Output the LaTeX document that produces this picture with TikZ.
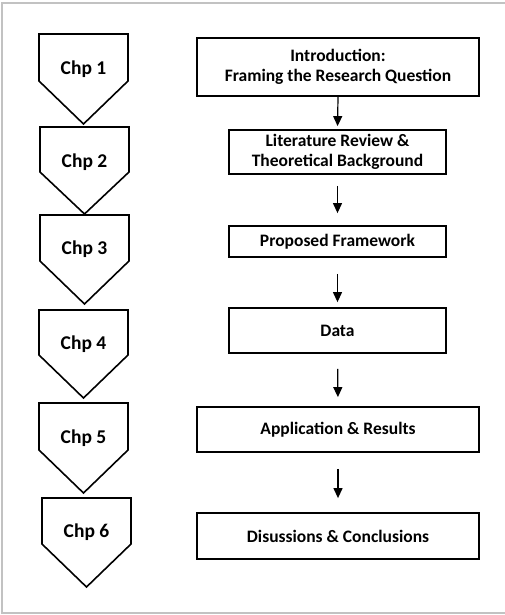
\documentclass[tikz,border=0pt]{standalone}
\usepackage{fontspec}
\setmainfont{Carlito}
\usetikzlibrary{positioning}
\usetikzlibrary{arrows.meta}

\tikzset{
  chev/.style={draw=black,line width=1.6pt,line join=miter},
  chplabel/.style={font=\fontsize{19.5}{22}\selectfont\bfseries},
  stepbox/.style={draw=black,line width=1.8pt,align=center,inner sep=0pt,
    font=\fontsize{17.5}{20}\selectfont\bfseries},
  arr/.style={draw=black,line width=1.2pt,-{Triangle[width=9pt,length=10pt]}}
}

\begin{document}
\begin{tikzpicture}[x=1pt,y=-1pt]
\useasboundingbox (0,0) rectangle (504,615);
\draw[fill=white,draw=none] (0,0) rectangle (504,615);
\draw[black!24,line width=2pt] (506,3) -- (2,3) -- (2,613) -- (506,613);

% chapter markers
\foreach \n/\l/\t/\s/\b/\m in {1/39/34/81/124/69, 2/40/127/172/214/162, 3/40/215/261/304/249,
  4/39/310/355/398/344, 5/39/403/450/493/438, 6/42/498/544/587/532}{
  \draw[chev] (\l,\t) -- (\l+89,\t) -- (\l+89,\s) -- (\l+44.5,\b) -- (\l,\s) -- cycle;
  \node[chplabel] (chp\n) at (\l+44.5,\m) {Chp \n};
}

% chapter contents
\node[stepbox,minimum width=282,minimum height=58] (intro) at (338,67) {Introduction:\\Framing the Research Question};
\node[stepbox,minimum width=217,minimum height=44] (litrev) at (337.5,152) {Literature Review \&\\Theoretical Background};
\node[stepbox,minimum width=217,minimum height=31] (frame) at (337.5,241.5) {Proposed Framework};
\node[stepbox,minimum width=217,minimum height=45] (data) at (337.5,330.5) {Data};
\node[stepbox,minimum width=282,minimum height=45] (appl) at (338,429.5) {Application \& Results};
\node[stepbox,minimum width=282,minimum height=46] (concl) at (338,536) {Disussions \& Conclusions};

\draw[arr,shorten >=3pt] (intro.south) -- (litrev.north);
\draw[arr,shorten <=11pt,shorten >=12pt] (litrev.south) -- (frame.north);
\draw[arr,shorten <=16pt,shorten >=5pt] (frame.south) -- (data.north);
\draw[arr,shorten <=15pt,shorten >=9pt] (data.south) -- (appl.north);
\draw[arr,shorten <=16pt,shorten >=14pt] (appl.south) -- (concl.north);

\end{tikzpicture}
\end{document}
